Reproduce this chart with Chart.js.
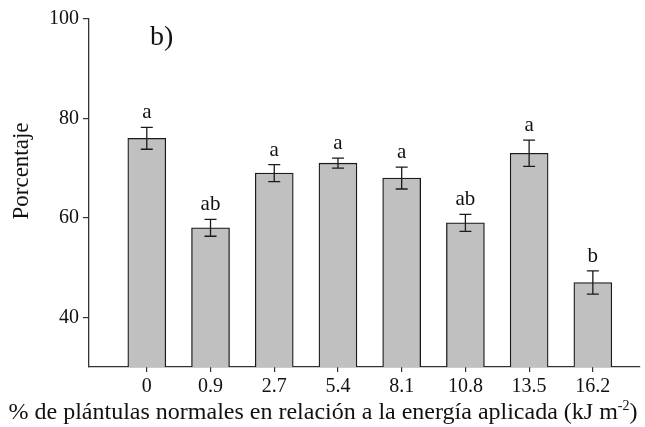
<!DOCTYPE html>
<html>
<head>
<meta charset="utf-8">
<script src="https://cdn.jsdelivr.net/npm/chart.js@4.4.1/dist/chart.umd.min.js"></script>
<style>
  html, body { margin: 0; padding: 0; background: #fff; }
  #wrap { width: 645px; height: 427px; position: relative; }
</style>
</head>
<body>
<div id="wrap"><canvas id="grafico"></canvas></div>
<script>
const categorias = ["0", "0.9", "2.7", "5.4", "8.1", "10.8", "13.5", "16.2"];
const valores = [76, 58, 69, 71, 68, 59, 73, 47];
const errores = [2.2, 1.7, 1.7, 1.0, 2.2, 1.7, 2.65, 2.35];
const letras = ["a", "ab", "a", "a", "a", "ab", "a", "b"];
const ticksY = [40, 60, 80, 100];

const fuente = "'Liberation Serif', 'Times New Roman', serif";
const colorEje = "#333";

// barras de error, letras y titulos
const extras = {
  id: "extras",
  afterDatasetsDraw(chart) {
    const { ctx, scales: { x, y } } = chart;
    ctx.save();
    ctx.strokeStyle = "#1a1a1a";
    ctx.lineWidth = 1.3;
    ctx.fillStyle = "#111";
    ctx.font = `21px ${fuente}`;
    ctx.textAlign = "center";
    ctx.textBaseline = "alphabetic";
    valores.forEach((v, i) => {
      const cx = x.getPixelForValue(i);
      const yTop = y.getPixelForValue(v + errores[i]);
      const yBot = y.getPixelForValue(v - errores[i]);
      ctx.beginPath();
      ctx.moveTo(cx, yTop);
      ctx.lineTo(cx, yBot);
      ctx.moveTo(cx - 6, yTop);
      ctx.lineTo(cx + 6, yTop);
      ctx.moveTo(cx - 6, yBot);
      ctx.lineTo(cx + 6, yBot);
      ctx.stroke();
      ctx.fillText(letras[i], cx, yTop - 9);
    });

    ctx.font = `28px ${fuente}`;
    ctx.textAlign = "left";
    ctx.fillText("b)", 150, 45);

    // titulo eje y
    ctx.save();
    ctx.translate(22, 171);
    ctx.rotate(-Math.PI / 2);
    ctx.font = `23px ${fuente}`;
    ctx.textAlign = "center";
    ctx.textBaseline = "middle";
    ctx.fillText("Porcentaje", 0, 0);
    ctx.restore();

    // titulo eje x con superindice
    const p1 = "% de plántulas normales en relación a la energía aplicada (kJ m";
    const sup = "-2";
    const p3 = ")";
    ctx.font = `24px ${fuente}`;
    const w1 = ctx.measureText(p1).width;
    const w3 = ctx.measureText(p3).width;
    ctx.font = `14px ${fuente}`;
    const w2 = ctx.measureText(sup).width;
    let xx = 323 - (w1 + w2 + w3) / 2;
    const base = 419;
    ctx.textAlign = "left";
    ctx.font = `24px ${fuente}`;
    ctx.fillText(p1, xx, base);
    xx += w1;
    ctx.font = `14px ${fuente}`;
    ctx.fillText(sup, xx, base - 9);
    xx += w2;
    ctx.font = `24px ${fuente}`;
    ctx.fillText(p3, xx, base);
    ctx.restore();
  }
};

new Chart(document.getElementById("grafico"), {
  type: "bar",
  data: {
    datasets: [
      {
        data: valores.map((v, i) => ({ x: i, y: v })),
        backgroundColor: "#c0c0c0",
        borderColor: "#1a1a1a",
        borderWidth: 1.3,
        barThickness: 38,
      }
    ]
  },
  options: {
    responsive: true,
    maintainAspectRatio: false,
    animation: false,
    layout: {
      padding: { top: 19, right: 5, left: 0, bottom: 0 }
    },
    scales: {
      x: {
        type: "linear",
        offset: false,
        min: -0.907,
        max: 7.74,
        afterBuildTicks: (scale) => {
          scale.ticks = categorias.map((_, i) => ({ value: i }));
        },
        afterFit: (scale) => {
          scale.height = 60;
        },
        grid: {
          offset: false,
          drawOnChartArea: false,
          drawTicks: true,
          tickLength: 5,
          color: colorEje,
          lineWidth: 1.2
        },
        border: { display: true, color: colorEje, width: 1.3 },
        ticks: {
          autoSkip: false,
          maxRotation: 0,
          padding: 3,
          color: "#111",
          font: { family: fuente, size: 20 },
          callback: (value) => categorias[value] ?? ""
        }
      },
      y: {
        min: 30,
        max: 100,
        afterBuildTicks: (scale) => {
          scale.ticks = ticksY.map((v) => ({ value: v }));
        },
        afterFit: (scale) => {
          scale.width = 89;
        },
        grid: {
          drawOnChartArea: false,
          drawTicks: true,
          tickLength: 6,
          color: colorEje,
          lineWidth: 1.2
        },
        border: { display: true, color: colorEje, width: 1.3 },
        ticks: {
          padding: 4,
          color: "#111",
          font: { family: fuente, size: 20 }
        }
      }
    },
    plugins: {
      legend: { display: false },
      tooltip: { enabled: false }
    }
  },
  plugins: [extras]
});
</script>
</body>
</html>
